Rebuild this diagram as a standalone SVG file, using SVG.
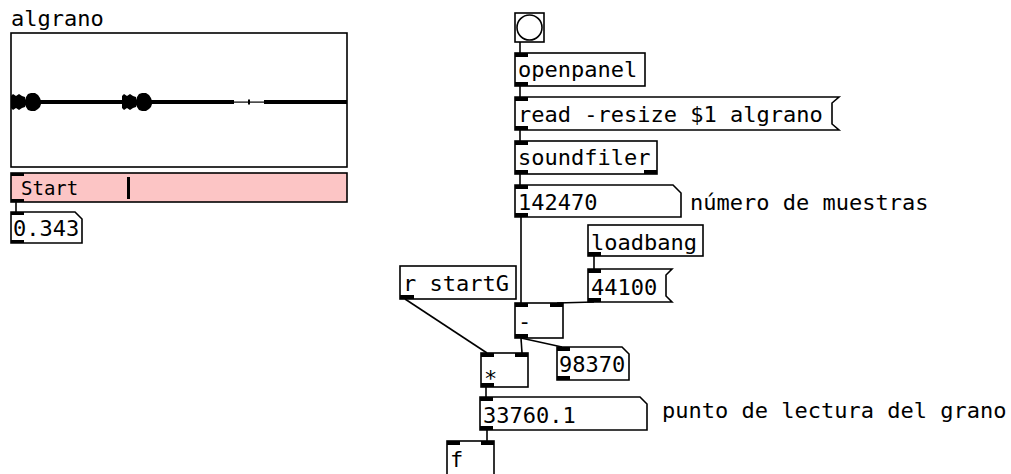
<svg xmlns="http://www.w3.org/2000/svg" width="1011" height="474" viewBox="0 0 1011 474">
<style>
.box{fill:#fff;stroke:#000;stroke-width:1.6}
.io{fill:#000}
.t{font-family:"DejaVu Sans Mono","Liberation Mono",monospace;font-size:22px;fill:#000}
.s{font-family:"DejaVu Sans Mono","Liberation Mono",monospace;font-size:19px;fill:#000}
.c{stroke:#000;stroke-width:1.6;fill:none}
</style>
<rect width="1011" height="474" fill="#fff"/>
<g id="connectors">
<line class="c" x1="16" y1="202" x2="16" y2="212"/>
<line class="c" x1="520" y1="42" x2="520" y2="53"/>
<line class="c" x1="520" y1="86" x2="520" y2="97"/>
<line class="c" x1="520" y1="130" x2="520" y2="141"/>
<line class="c" x1="520" y1="174" x2="520" y2="185"/>
<line class="c" x1="521" y1="217" x2="521" y2="303"/>
<line class="c" x1="594" y1="256" x2="594" y2="269"/>
<line class="c" x1="594" y1="302" x2="557" y2="303"/>
<line class="c" x1="521" y1="338" x2="522" y2="353"/>
<line class="c" x1="521" y1="338" x2="562" y2="347"/>
<line class="c" x1="405" y1="299" x2="487" y2="353"/>
<line class="c" x1="486" y1="387" x2="486" y2="397"/>
<line class="c" x1="487" y1="430" x2="487" y2="441"/>
</g>
<g id="array-algrano">
<text class="t" x="11" y="26">algrano</text>
<rect class="box" x="11" y="33" width="336" height="134"/>
<rect x="38" y="100" width="85" height="4"/>
<rect x="150" y="100" width="84" height="4"/>
<rect x="234" y="101.5" width="30" height="1.2"/>
<rect x="248" y="99.5" width="2" height="5"/>
<rect x="264" y="100" width="83" height="4"/>
<path d="M11,96 L13,94 L16,96 L19,94 L22,96 L25,97 L26,100 L26,105 L25,107 L22,108 L19,110 L16,108 L13,110 L11,108 Z"/>
<path d="M26,97 L28,94 L31,93 L35,93 L38,95 L40,98 L41,101 L41,104 L40,107 L38,109 L35,111 L31,111 L28,110 L26,107 Z"/>
<path d="M122,96 L124,94 L127,96 L130,94 L133,96 L136,97 L137,100 L137,105 L136,107 L133,108 L130,110 L127,108 L124,110 L122,108 Z"/>
<path d="M137,97 L139,94 L142,93 L146,93 L149,95 L151,98 L152,101 L152,104 L151,107 L149,109 L146,111 L142,111 L139,110 L137,107 Z"/>
</g>
<g id="slider-start">
<rect x="11" y="173" width="336" height="29" fill="#fcc5c5" stroke="#000" stroke-width="1.6"/>
<rect class="io" x="11" y="173" width="13" height="3"/>
<rect class="io" x="11" y="199" width="13" height="3"/>
<rect x="127" y="177" width="3" height="22"/>
<text class="s" x="21" y="195">Start</text>
</g>
<g id="num-0343">
<polygon class="box" points="11,212 75,212 82,219 82,243 11,243"/>
<rect class="io" x="11" y="212" width="13" height="3"/>
<rect class="io" x="11" y="240" width="13" height="3"/>
<text class="t" x="13" y="236">0.343</text>
</g>
<g id="bang">
<rect class="box" x="515" y="13" width="29" height="29"/>
<circle cx="529.5" cy="27.5" r="12.5" fill="#fff" stroke="#000" stroke-width="1.6"/>
</g>
<g id="openpanel">
<rect class="box" x="515" y="53" width="130" height="33"/>
<rect class="io" x="515" y="53" width="13" height="4"/>
<rect class="io" x="515" y="82" width="13" height="4"/>
<text class="t" x="518" y="77">openpanel</text>
</g>
<g id="msg-read">
<path class="box" d="M515,97 H839 L832,103 V124 L839,130 H515 Z"/>
<rect class="io" x="515" y="97" width="13" height="4"/>
<rect class="io" x="515" y="126" width="13" height="4"/>
<text class="t" x="518" y="122">read -resize $1 algrano</text>
</g>
<g id="soundfiler">
<rect class="box" x="515" y="141" width="142" height="33"/>
<rect class="io" x="515" y="141" width="13" height="4"/>
<rect class="io" x="515" y="170" width="13" height="4"/>
<rect class="io" x="644" y="170" width="13" height="4"/>
<text class="t" x="518" y="165">soundfiler</text>
</g>
<g id="num-142470">
<polygon class="box" points="515,185 673,185 681,193 681,217 515,217"/>
<rect class="io" x="515" y="185" width="13" height="4"/>
<rect class="io" x="515" y="213" width="13" height="4"/>
<text class="t" x="518" y="210">142470</text>
</g>
<g id="comment-muestras">
<text class="t" x="690" y="210">número de muestras</text>
</g>
<g id="loadbang">
<rect class="box" x="588" y="225" width="115" height="31"/>
<rect class="io" x="588" y="252" width="13" height="4"/>
<text class="t" x="591" y="250">loadbang</text>
</g>
<g id="msg-44100">
<path class="box" d="M588,269 H672 L666,275 V296 L672,302 H588 Z"/>
<rect class="io" x="588" y="269" width="13" height="4"/>
<rect class="io" x="588" y="298" width="13" height="4"/>
<text class="t" x="591" y="295">44100</text>
</g>
<g id="r-startG">
<rect class="box" x="400" y="266" width="116" height="33"/>
<rect class="io" x="400" y="295" width="14" height="4"/>
<text class="t" x="403" y="291">r startG</text>
</g>
<g id="minus">
<rect class="box" x="515" y="303" width="48" height="35"/>
<rect class="io" x="515" y="303" width="13" height="4"/>
<rect class="io" x="550" y="303" width="13" height="4"/>
<rect class="io" x="515" y="334" width="13" height="4"/>
<text class="t" x="518" y="329">-</text>
</g>
<g id="num-98370">
<polygon class="box" points="557,347 622,347 629,354 629,380 557,380"/>
<rect class="io" x="557" y="347" width="13" height="4"/>
<rect class="io" x="557" y="376" width="13" height="4"/>
<text class="t" x="559" y="372">98370</text>
</g>
<g id="times">
<rect class="box" x="481" y="353" width="47" height="34"/>
<rect class="io" x="481" y="353" width="13" height="4"/>
<rect class="io" x="515" y="353" width="13" height="4"/>
<rect class="io" x="481" y="383" width="13" height="4"/>
<text class="t" x="484" y="386">*</text>
</g>
<g id="num-33760">
<polygon class="box" points="480,397 640,397 647,404 647,430 480,430"/>
<rect class="io" x="480" y="397" width="13" height="4"/>
<rect class="io" x="480" y="426" width="13" height="4"/>
<text class="t" x="483" y="423">33760.1</text>
</g>
<g id="comment-punto">
<text class="t" x="662" y="418">punto de lectura del grano</text>
</g>
<g id="float">
<rect class="box" x="447" y="441" width="47" height="40"/>
<rect class="io" x="447" y="441" width="13" height="4"/>
<rect class="io" x="481" y="441" width="13" height="4"/>
<text class="t" x="450" y="467">f</text>
</g>
</svg>
